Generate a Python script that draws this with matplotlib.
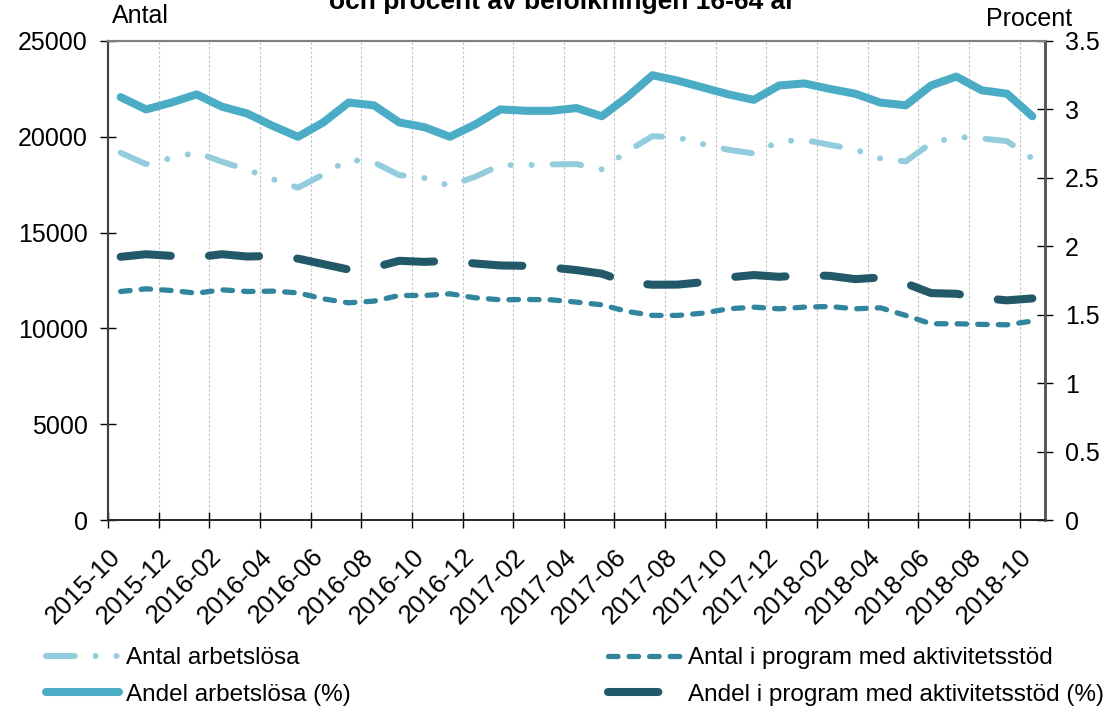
import matplotlib
matplotlib.use("Agg")
import matplotlib.pyplot as plt
import matplotlib.transforms as mtransforms
import numpy as np

plt.rcParams['font.family'] = ['Liberation Sans', 'DejaVu Sans']

# månader 2015-10 .. 2018-10 (37 st), etiketter varannan månad
tick_labels = ['2015-10', '2015-12', '2016-02', '2016-04', '2016-06', '2016-08',
               '2016-10', '2016-12', '2017-02', '2017-04', '2017-06', '2017-08',
               '2017-10', '2017-12', '2018-02', '2018-04', '2018-06', '2018-08',
               '2018-10']

antal_arbetslosa = [19165, 18575, 18890, 19183, 18697, 18280, 17795, 17343, 18030,
                    18817, 18662, 18003, 17846, 17447, 17915, 18523, 18523, 18558,
                    18575, 18297, 19236, 20033, 19964, 19617, 19322, 19130, 19756,
                    19843, 19582, 19339, 18870, 18714, 19669, 20000, 19912, 19773,
                    18870]

antal_program = [11926, 12066, 11978, 11839, 12013, 11926, 11944, 11856, 11544,
                 11336, 11423, 11718, 11718, 11805, 11597, 11493, 11510, 11493,
                 11371, 11232, 10885, 10677, 10677, 10798, 11023, 11110, 11023,
                 11110, 11145, 11023, 11075, 10677, 10243, 10243, 10208, 10190,
                 10382]

andel_arbetslosa = [3.09, 3.00, 3.05, 3.11, 3.02, 2.97, 2.88, 2.80, 2.905, 3.05,
                    3.03, 2.905, 2.87, 2.80, 2.89, 3.00, 2.99, 2.99, 3.01, 2.95,
                    3.09, 3.25, 3.21, 3.16, 3.11, 3.07, 3.175, 3.19, 3.15, 3.115,
                    3.05, 3.03, 3.175, 3.24, 3.14, 3.115, 2.95]

andel_program = [1.923, 1.942, 1.93, 1.92, 1.942, 1.925, 1.93, 1.91, 1.87, 1.83,
                 1.845, 1.894, 1.886, 1.894, 1.874, 1.86, 1.857, 1.845, 1.826, 1.80,
                 1.736, 1.719, 1.72, 1.738, 1.772, 1.79, 1.777, 1.789, 1.784, 1.76,
                 1.772, 1.729, 1.658, 1.653, 1.622, 1.605, 1.619]

c_light = '#93CDDD'
c_solid = '#4BACC6'
c_teal = '#31859C'
c_dark = '#215968'

W, H = 1109, 715
fig = plt.figure(figsize=(W / 100, H / 100), dpi=100)
ax = fig.add_axes([108 / W, 1 - 520 / H, (1045 - 108) / W, (520 - 41) / H])
ax2 = ax.twinx()

n = len(antal_arbetslosa)
x = np.arange(n) + 0.5

l1, = ax.plot(x, antal_arbetslosa, color=c_light, lw=4.3, dash_capstyle='round',
              label='Antal arbetslösa')
l1.set_dashes([4.8, 3.5, 0.01, 3.5, 0.01, 3.5])
l3, = ax.plot(x, antal_program, color=c_teal, lw=3.8, dash_capstyle='round',
              label='Antal i program med aktivitetsstöd')
l3.set_dashes([1.8, 2.1])

l2, = ax2.plot(x, andel_arbetslosa, color=c_solid, lw=5.8, solid_capstyle='round',
               solid_joinstyle='round', label='Andel arbetslösa (%)')
l4, = ax2.plot(x, andel_program, color=c_dark, lw=5.8, dash_capstyle='round',
               label='Andel i program med aktivitetsstöd (%)')
l4.set_dashes([6.25, 4.75])

ax.set_xlim(0, n)
ax.set_ylim(0, 25000)
ax2.set_ylim(0, 3.5)

ax.set_yticks(np.arange(0, 25001, 5000))
ax.set_yticklabels([str(v) for v in range(0, 25001, 5000)])
ax2.set_yticks(np.arange(0, 3.51, 0.5))
ax2.set_yticklabels(['0', '0.5', '1', '1.5', '2', '2.5', '3', '3.5'])

ax.set_xticks(np.arange(0, n, 2))
ax.set_xticklabels(tick_labels, rotation=45, ha='right', rotation_mode='anchor')
offset = mtransforms.ScaledTranslation(19 / 100, 0, fig.dpi_scale_trans)
for lab in ax.get_xticklabels():
    lab.set_transform(lab.get_transform() + offset)

ax.grid(axis='x', color='#BFBFBF', lw=0.8, linestyle=(0, (2, 2)))
ax.set_axisbelow(True)

for a in (ax, ax2):
    a.spines['top'].set_color('#808080')
    a.spines['top'].set_linewidth(1.5)
    a.spines['left'].set_color('#404040')
    a.spines['left'].set_linewidth(1.5)
    a.spines['right'].set_color('#595959')
    a.spines['right'].set_linewidth(2)
    a.spines['bottom'].set_color('#262626')
    a.spines['bottom'].set_linewidth(1.2)

ax.tick_params(axis='y', direction='inout', length=11, width=1, labelsize=18, pad=9)
ax.tick_params(axis='x', direction='inout', length=11, width=1, labelsize=18.5, pad=12)
ax2.tick_params(axis='y', direction='inout', length=11, width=1, labelsize=18, pad=9)

fig.text(112 / W, 1 - 16 / H, 'Antal', fontsize=18, ha='left', va='center')
fig.text(1072 / W, 1 - 19 / H, 'Procent', fontsize=18, ha='right', va='center')
fig.text(562 / W, 1 - 1 / H, 'och procent av befolkningen 16-64 år', fontsize=19,
         fontweight='bold', ha='center', va='center')

leg_kw = dict(frameon=False, fontsize=17.5, borderpad=0, borderaxespad=0,
              handlelength=3.0, handletextpad=0.3, labelspacing=0.6,
              loc='upper left')
fig.legend([l1, l2], [l1.get_label(), l2.get_label()],
           bbox_to_anchor=(46 / W, 1 - 647 / H), **leg_kw)
fig.legend([l3, l4], [l3.get_label(), l4.get_label()],
           bbox_to_anchor=(608 / W, 1 - 647 / H), **leg_kw)

fig.savefig('out.png', dpi=100)
